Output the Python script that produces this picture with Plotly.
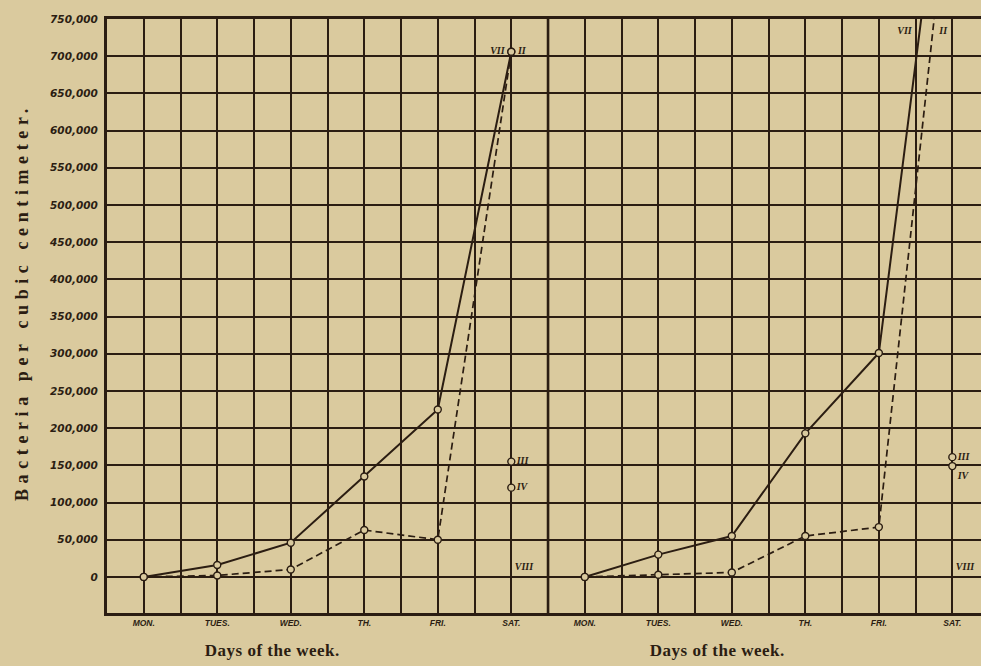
import plotly.graph_objects as go

# ---------------- data ----------------
days = ["MON.", "TUES.", "WED.", "TH.", "FRI.", "SAT."]

# left panel
left_vii = [0, 16000, 46000, 135000, 225000, 706000]
left_ii = [0, 2000, 10000, 63000, 50000, 706000]
left_iii = 155000
left_iv = 120000
left_viii = 13000

# right panel
right_vii = [0, 30000, 55000, 193000, 301000, 1080000]
right_ii = [0, 3000, 6000, 55000, 67000, 975000]
right_iii = 161000
right_iv = 149000
right_viii = 13000

y_ticks = list(range(0, 750001, 50000))
y_tick_labels = ["0", "50,000", "100,000", "150,000", "200,000", "250,000", "300,000",
                 "350,000", "400,000", "450,000", "500,000", "550,000", "600,000",
                 "650,000", "700,000", "750,000"]

# top-right curve labels (label anchor positions, grid units / values)
top_label_x = [21.7, 22.75]
top_label_y = [733000, 733000]
top_label_text = ["VII", "II"]

# ---------------- style ----------------
BG = "#DACA9E"
INK = "#2B1D12"
X_MAX = 23.78

def xs(panel):
    return [1 + 2 * i + 12 * panel for i in range(len(days))]

fig = go.Figure()

def add_curve(x, y, dash, width):
    fig.add_trace(go.Scatter(
        x=x, y=y, mode="lines+markers",
        line=dict(color=INK, width=width, dash=dash),
        marker=dict(symbol="circle", size=7, color=BG, line=dict(color=INK, width=1.4)),
        showlegend=False, hoverinfo="skip"))

label_font = dict(family="Liberation Serif", size=10, color=INK, weight="bold", style="italic")
ghost = dict(size=9, opacity=0)

for panel, vii, ii, iii, iv, viii in [(0, left_vii, left_ii, left_iii, left_iv, left_viii),
                                      (1, right_vii, right_ii, right_iii, right_iv, right_viii)]:
    x = xs(panel)
    add_curve(x, ii, "7px,4px", 1.7)
    add_curve(x, vii, "solid", 2.0)
    sat = x[-1]
    pos = ["middle right", "middle right"] if panel == 0 else ["middle right", "bottom right"]
    fig.add_trace(go.Scatter(
        x=[sat, sat], y=[iii, iv], mode="markers+text",
        text=["III", "IV"], textposition=pos, textfont=label_font,
        marker=dict(symbol="circle", size=7, color=BG, line=dict(color=INK, width=1.4)),
        showlegend=False, hoverinfo="skip"))
    fig.add_trace(go.Scatter(
        x=[sat], y=[viii], mode="markers+text", text=["VIII"], textposition="middle right",
        textfont=label_font, marker=dict(size=4, opacity=0),
        showlegend=False, hoverinfo="skip"))

# left-panel Saturday labels VII / II
lx = xs(0)[-1]
fig.add_trace(go.Scatter(x=[lx], y=[left_vii[-1]], mode="markers+text", text=["VII"],
                         textposition="middle left", textfont=label_font, marker=ghost,
                         showlegend=False, hoverinfo="skip"))
fig.add_trace(go.Scatter(x=[lx], y=[left_ii[-1]], mode="markers+text", text=["II"],
                         textposition="middle right", textfont=label_font, marker=ghost,
                         showlegend=False, hoverinfo="skip"))
# right-panel top labels
fig.add_trace(go.Scatter(x=top_label_x, y=top_label_y, mode="text", text=top_label_text,
                         textposition="middle center", textfont=label_font,
                         showlegend=False, hoverinfo="skip"))

x_tickvals = list(range(0, 24))
x_ticktext = []
for v in x_tickvals:
    if v % 2 == 1:
        x_ticktext.append(days[((v - 1) // 2) % 6])
    else:
        x_ticktext.append("")

fig.update_xaxes(
    range=[0, X_MAX], tickmode="array", tickvals=x_tickvals, ticktext=x_ticktext,
    showgrid=True, gridcolor=INK, gridwidth=1.5, zeroline=False,
    showline=True, linecolor=INK, linewidth=3, mirror=True,
    ticks="", tickfont=dict(family="Liberation Sans", size=8.5, color=INK,
                            weight="bold", style="italic"),
    fixedrange=True)
fig.update_yaxes(
    range=[-48500, 750000], tickmode="array", tickvals=y_ticks, ticktext=y_tick_labels,
    showgrid=True, gridcolor=INK, gridwidth=1.5, zeroline=False,
    showline=True, linecolor=INK, linewidth=3, mirror=False,
    ticks="", ticklabelstandoff=4,
    tickfont=dict(family="DejaVu Sans", size=10.5, color=INK, weight="bold", style="italic"),
    fixedrange=True)

# panel divider
fig.add_shape(type="line", xref="x", yref="paper", x0=12, x1=12, y0=0, y1=1,
              line=dict(color=INK, width=2.6))

ytitle_font = dict(family="Liberation Serif", size=18, color=INK, weight="bold")
title_font = dict(family="Liberation Serif", size=17, color=INK, weight="bold")
fig.add_annotation(text="Bacteria per cubic centimeter.", xref="paper", yref="paper",
                   x=(22 - 107) / 874, y=(613 - 302) / 594, textangle=-90,
                   showarrow=False, font=ytitle_font, xanchor="center", yanchor="middle")
for cx in [272, 717]:
    fig.add_annotation(text="Days of the week.", xref="paper", yref="paper",
                       x=(cx - 107) / 874, y=-(650 - 613) / 594, showarrow=False,
                       font=title_font, xanchor="center", yanchor="middle")

fig.update_layout(
    width=981, height=666,
    margin=dict(l=107, r=0, t=19, b=53),
    paper_bgcolor=BG, plot_bgcolor=BG,
    showlegend=False,
)

post = """
document.body.style.margin = '0';
document.body.style.overflow = 'hidden';
document.querySelectorAll('.annotation-text').forEach(function (t) {
  if (t.textContent.indexOf('Bacteria') === 0) { t.style.letterSpacing = '5.6px'; }
  if (t.textContent.indexOf('Days') === 0) { t.style.letterSpacing = '0.5px'; }
});
"""

fig.write_html("out.html", post_script=post, config={"displayModeBar": False})
